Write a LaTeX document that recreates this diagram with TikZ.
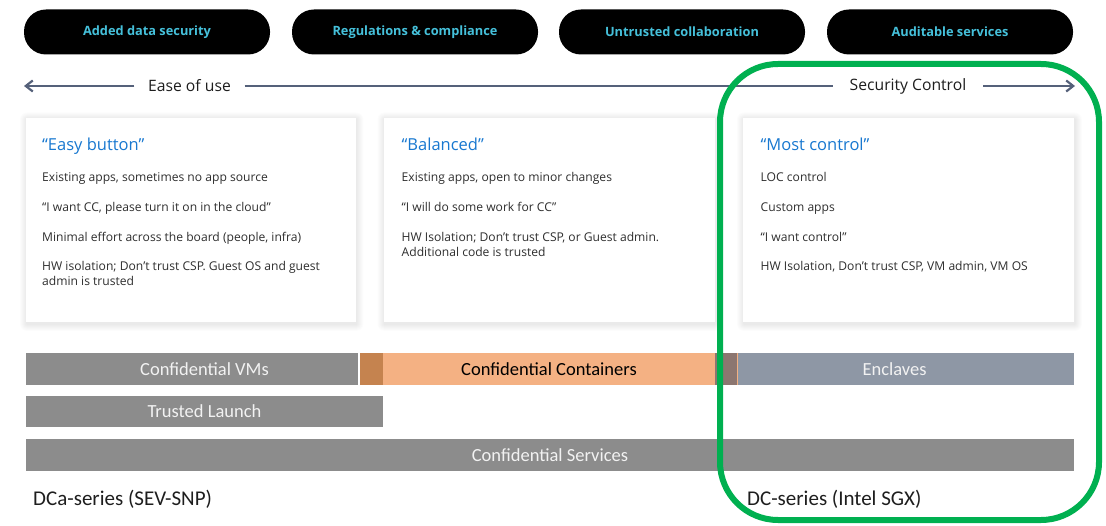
\documentclass[tikz,border=0pt]{standalone}
\usepackage{fontspec}
\setmainfont{Open Sans}
\newfontfamily\calfont{Carlito}
\usetikzlibrary{arrows.meta,backgrounds}
\definecolor{pillcyan}{HTML}{45C0DA}
\definecolor{ttlblue}{HTML}{1878D0}
\definecolor{bodytxt}{HTML}{2E2E2E}
\definecolor{bargray}{HTML}{8C8C8C}
\definecolor{orlight}{HTML}{F4B183}
\definecolor{ordark}{HTML}{C5834F}
\definecolor{enclc}{HTML}{8E97A5}
\definecolor{overlapc}{HTML}{8C7670}
\definecolor{arrowc}{HTML}{55617A}
\definecolor{grn}{HTML}{00B050}
\definecolor{lbltxt}{HTML}{1E1E1E}
\begin{document}
\begin{tikzpicture}[x=1pt,y=-1pt,
  pill/.style={fill=black, rounded corners=22pt, minimum width=246pt, minimum height=45pt, inner sep=0pt, text=pillcyan, font=\bfseries\fontsize{12.8}{14}\selectfont},
  card/.style={fill=white, minimum height=204pt, inner sep=0pt, anchor=north west},
  ttl/.style={anchor=base west, text=ttlblue, inner sep=0pt, font=\fontsize{16.5}{19}\selectfont},
  body/.style={anchor=base west, text=bodytxt, inner sep=0pt, font=\fontsize{12.1}{14}\selectfont},
  bar/.style={minimum height=32pt, inner sep=0pt, font=\calfont\fontsize{18.5}{20}\selectfont, text=white!95!black},
  axlbl/.style={text=lbltxt, inner ysep=0pt, font=\fontsize{15.7}{18}\selectfont},
  axline/.style={draw=arrowc, line width=2.4pt},
  axarrow/.style={axline, -{Straight Barb[length=7pt,width=11pt,line width=2.2pt]}},
  serlbl/.style={anchor=base west, inner sep=0pt, text=lbltxt, font=\calfont\fontsize{21}{24}\selectfont}
]
\useasboundingbox (0,0) rectangle (1106,526);

% top pills
\node[pill] (p1) at (147,32) {Added data security};
\node[pill] (p2) at (415,32) {Regulations \& compliance};
\node[pill] (p3) at (682,32) {Untrusted collaboration};
\node[pill] (p4) at (950,32) {Auditable services};

% axis
\node[axlbl, inner xsep=13.5pt] (eou) at (189.5,86) {Ease of use};
\node[axlbl, inner xsep=17pt] (sec) at (908,86) {Security Control};
\coordinate (lend) at (24,86);
\coordinate (rend) at (1075,86);
\draw[axarrow] (eou.west) -- (lend);
\draw[axline] (eou.east) -- (sec.west);
\draw[axarrow] (sec.east) -- (rend);

% cards
\node[card, minimum width=329.5pt] (card1) at (26,118) {};
\node[card, minimum width=331.5pt] (card2) at (383.5,118) {};
\node[card, minimum width=331pt] (card3) at (743,118) {};
\begin{scope}[on background layer]
\fill[white] (0,0) rectangle (1106,526);
\foreach \c in {card1,card2,card3}{
  \foreach \d in {1,...,7}{
    \fill[black,opacity=0.013,rounded corners=\d pt] ([shift={(-\d+1,-\d+1.5)}]\c.north west) rectangle ([shift={(\d+0.5,\d+1.5)}]\c.south east);
  }
}
\end{scope}

\node[ttl] (t1) at (42,151) {“Easy button”};
\node[body] (a1) at (42,182) {Existing apps, sometimes no app source};
\node[body] (b1) at (42,212) {“I want CC, please turn it on in the cloud”};
\node[body] (c1) at (42,241.5) {Minimal effort across the board (people, infra)};
\node[body] (d1) at (42,271) {HW isolation; Don’t trust CSP. Guest OS and guest};
\node[body] (e1) at (42,286) {admin is trusted};

\node[ttl] (t2) at (401.5,151) {“Balanced”};
\node[body] (a2) at (401.5,182) {Existing apps, open to minor changes};
\node[body] (b2) at (401.5,212) {“I will do some work for CC”};
\node[body] (c2) at (401.5,241.5) {HW Isolation; Don’t trust CSP, or Guest admin.};
\node[body] (d2) at (401.5,256.5) {Additional code is trusted};

\node[ttl] (t3) at (760.5,151) {“Most control”};
\node[body] (a3) at (760.5,182) {LOC control};
\node[body] (b3) at (760.5,212) {Custom apps};
\node[body] (c3) at (760.5,241.5) {“I want control”};
\node[body] (d3) at (760.5,271) {HW Isolation, Don’t trust CSP, VM admin, VM OS};

% bars
\node[bar, fill=bargray, minimum width=357pt] (cvm) at (204.5,369) {Confidential VMs};
\node[bar, fill=enclc, minimum width=359pt] (encl) at (894.5,369) {Enclaves};
\node[bar, fill=orlight, minimum width=378pt, text=black] (ccont) at (549,369) {Confidential Containers};
\fill[white] (358,353) rectangle (360,385);
\fill[ordark] (360,353) rectangle (383,385);
\fill[overlapc] (715,353) rectangle (737,385);
\node[bar, fill=bargray, minimum width=357pt, minimum height=31pt] (tl) at (204.5,411.5) {Trusted Launch};
\node[bar, fill=bargray, minimum width=1048pt] (cs) at (550,455) {Confidential Services};

\node[serlbl] (dca) at (33,505) {DCa-series (SEV-SNP)};
\node[serlbl] (dc) at (747,505) {DC-series (Intel SGX)};

% green highlight
\draw[grn, line width=6pt, rounded corners=58pt] (720,64) rectangle (1099,520);
\end{tikzpicture}
\end{document}
